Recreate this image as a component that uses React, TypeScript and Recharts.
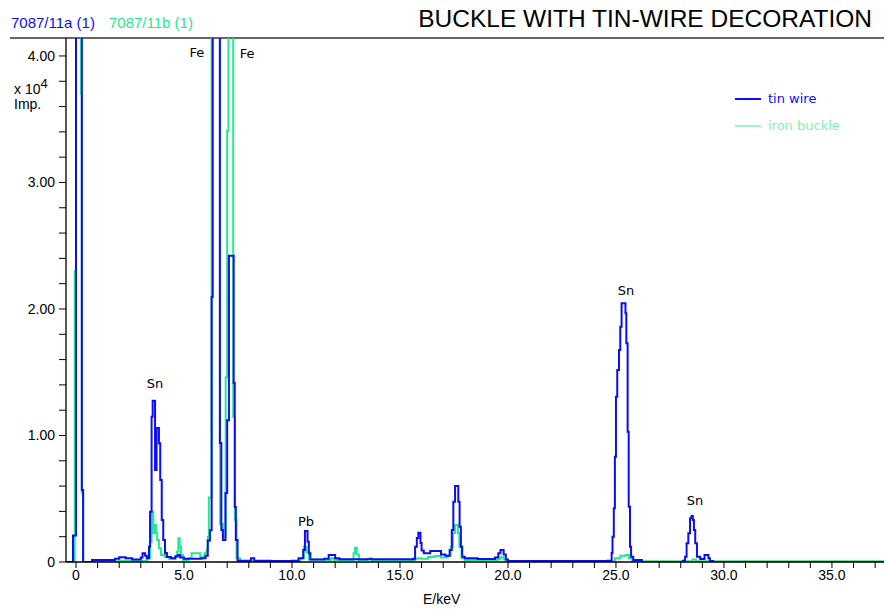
import React from 'react';
import { Line, LineChart, ReferenceDot, XAxis, YAxis } from 'recharts';

// spectrum: [energy keV, impulses]
const tinWire: [number, number][] = [
  [-0.46, 0], [-0.14, 2100], [0.0, 90000], [0.27, 5700], [0.33, 0],
  [0.74, 160], [1.2, 150], [1.8, 250], [2.0, 370], [2.3, 300], [2.6, 200],
  [3.0, 350], [3.08, 700], [3.2, 500], [3.28, 300], [3.38, 1200], [3.43, 3980],
  [3.5, 11480], [3.55, 12750], [3.66, 7270], [3.73, 10590], [3.84, 9380],
  [3.9, 6480], [3.97, 3320], [4.04, 1740], [4.12, 710], [4.21, 400], [4.4, 300],
  [4.6, 450], [4.72, 550], [4.82, 350], [5.0, 250], [5.8, 300], [6.0, 500],
  [6.1, 1700], [6.2, 2500], [6.28, 20950], [6.33, 90000], [6.66, 9400],
  [6.73, 2530], [6.8, 1740], [6.92, 5450], [7.0, 11200], [7.08, 24200],
  [7.3, 14150], [7.35, 4350], [7.4, 1740], [7.48, 100], [8.1, 300], [8.25, 100],
  [9.0, 80], [10.0, 100], [10.3, 300], [10.52, 950], [10.6, 2450], [10.72, 1600],
  [10.78, 690], [10.85, 200], [11.5, 250], [11.7, 550], [11.9, 550], [12.0, 300],
  [12.2, 210], [15.6, 250], [15.7, 1200], [15.78, 1900], [15.85, 2320],
  [15.95, 1500], [16.0, 900], [16.1, 700], [16.4, 870], [16.7, 870], [16.9, 600],
  [17.1, 500], [17.3, 950], [17.4, 2530], [17.47, 4770], [17.55, 6000],
  [17.7, 4770], [17.76, 2790], [17.82, 1210], [17.88, 420], [18.0, 300],
  [18.6, 240], [19.4, 350], [19.55, 700], [19.65, 950], [19.8, 600], [19.9, 200],
  [20.0, 80], [24.6, 100], [24.8, 710], [24.84, 2000], [24.9, 4240], [24.95, 8320],
  [25.0, 13070], [25.06, 15180], [25.14, 16760], [25.2, 18600], [25.26, 20450],
  [25.44, 19660], [25.48, 17290], [25.54, 10300], [25.59, 4370], [25.65, 1210],
  [25.7, 420], [25.8, 160], [26.2, 0], [28.1, 100], [28.2, 420], [28.27, 1480],
  [28.35, 2270], [28.43, 3450], [28.5, 3640], [28.56, 3320], [28.61, 2530],
  [28.67, 1480], [28.75, 420], [28.9, 240], [29.1, 550], [29.28, 300],
  [29.35, 80], [29.5, 0], [37.41, 0],
];

const ironBuckle: [number, number][] = [
  [-0.46, 0], [-0.06, 23000], [0.0, 90000], [0.24, 37000], [0.27, 5500], [0.33, 0],
  [0.8, 60], [2.0, 100], [3.0, 100], [3.3, 300], [3.43, 1600], [3.5, 3980],
  [3.58, 2270], [3.66, 2920], [3.7, 2270], [3.76, 1740], [3.84, 1080], [3.94, 550],
  [4.12, 400], [4.3, 250], [4.6, 400], [4.68, 815], [4.74, 1870], [4.8, 1210],
  [4.86, 550], [4.95, 160], [5.2, 300], [5.35, 690], [5.75, 400], [5.95, 700],
  [6.05, 950], [6.1, 1980], [6.15, 5100], [6.28, 90000], [6.67, 3000], [6.8, 2000],
  [6.93, 14600], [7.0, 34100], [7.06, 90000], [7.28, 11460], [7.36, 3320],
  [7.43, 300], [7.6, 80], [10.0, 80], [10.4, 300], [10.55, 1210], [10.68, 800],
  [10.78, 200], [11.6, 150], [11.8, 300], [11.95, 150], [12.7, 150], [12.85, 700],
  [12.92, 1130], [13.0, 600], [13.1, 150], [13.5, 250], [13.6, 300], [13.7, 100],
  [15.5, 100], [15.7, 250], [15.85, 300], [16.0, 250], [16.3, 400], [16.6, 470],
  [16.9, 350], [17.2, 500], [17.35, 1200], [17.45, 2300], [17.55, 2920],
  [17.68, 2300], [17.75, 1200], [17.85, 300], [18.0, 150], [19.5, 200],
  [19.65, 370], [19.8, 200], [19.9, 60], [24.8, 60], [24.95, 300], [25.2, 500],
  [25.45, 550], [25.6, 300], [25.75, 60], [28.45, 60], [28.55, 200], [28.7, 60],
  [37.41, 0],
];

const energyTicks = [
  0, 1, 2, 3, 4, 5, 6, 7, 8, 9, 10, 11, 12, 13, 14, 15, 16, 17, 18,
  19, 20, 21, 22, 23, 24, 25, 26, 27, 28, 29, 30, 31, 32, 33, 34, 35, 36, 37,
];
const countTicks = [
  0, 2000, 4000, 6000, 8000, 10000, 12000, 14000, 16000, 18000, 20000,
  22000, 24000, 26000, 28000, 30000, 32000, 34000, 36000, 38000, 40000,
];

const peakLabels = [
  { e: 5.6, c: 40300, name: 'Fe' },
  { e: 7.92, c: 40240, name: 'Fe' },
  { e: 3.66, c: 14150, name: 'Sn' },
  { e: 10.65, c: 3240, name: 'Pb' },
  { e: 25.46, c: 21500, name: 'Sn' },
  { e: 28.66, c: 4900, name: 'Sn' },
];

const BLUE = '#0d0df2';
const GREEN = '#22ea8c';

const toPoints = (rows: [number, number][]) => rows.map(([e, c]) => ({ e, c }));

const fmtEnergy = (v: number) => (v % 5 !== 0 ? '' : v === 0 ? '0' : v.toFixed(1));
const fmtCount = (v: number) => (v % 10000 !== 0 ? '' : v === 0 ? '0' : (v / 10000).toFixed(2));

const sans = 'Liberation Sans, Arial, sans-serif';
const tickFont = { fontFamily: sans, fontSize: 14, fill: '#000' };
const labelFont = 'DejaVu Sans, sans-serif';

const legendItems = [
  { name: 'tin wire', color: BLUE, w: 2 },
  { name: 'iron buckle', color: '#7ff0b4', w: 1.5 },
];

const SpectrumLegend = () => (
  <div style={{ position: 'absolute', left: 735, top: 85, fontFamily: labelFont, fontSize: 13 }}>
    {legendItems.map((s) => (
      <div key={s.name} style={{ display: 'flex', alignItems: 'center', height: 27 }}>
        <svg width={28} height={10} style={{ marginRight: 5 }}>
          <line x1={0} x2={26} y1={5} y2={5} stroke={s.color} strokeWidth={s.w} />
        </svg>
        <span style={{ color: s.color }}>{s.name}</span>
      </div>
    ))}
  </div>
);

export default function App() {
  return (
    <div style={{ position: 'absolute', left: 0, top: 0, width: 887, height: 609, background: '#fff' }}>
      <div style={{ position: 'absolute', left: 11, top: 14, fontFamily: sans, fontSize: 15, whiteSpace: 'nowrap' }}>
        <span style={{ color: BLUE }}>7087/11a (1)</span>
        <span style={{ color: GREEN, marginLeft: 14 }}>7087/11b (1)</span>
      </div>
      <div style={{ position: 'absolute', right: 15, top: 5, fontFamily: sans, fontSize: 24.5, color: '#000', whiteSpace: 'nowrap' }}>
        BUCKLE WITH TIN-WIRE DECORATION
      </div>
      <div style={{ position: 'absolute', left: 10, top: 37, width: 874, height: 0, borderTop: '2px solid #6b665c' }} />
      <div style={{ position: 'absolute', left: 14, top: 76, fontFamily: sans, fontSize: 14, lineHeight: '15px', color: '#000' }}>
        <div>
          x 10<sup style={{ fontSize: 13, verticalAlign: 6 }}>4</sup>
        </div>
        <div>Imp.</div>
      </div>
      <div style={{ position: 'absolute', left: 423, top: 591, fontFamily: sans, fontSize: 14, color: '#000' }}>
        E/keV
      </div>
      <SpectrumLegend />
      <LineChart width={887} height={609} margin={{ top: 38, right: 3, bottom: 0, left: 0 }}>
        <XAxis
          dataKey="e"
          type="number"
          domain={[-0.463, 37.41]}
          allowDataOverflow
          ticks={energyTicks}
          interval={0}
          tickFormatter={fmtEnergy}
          height={47}
          tickSize={6}
          tickMargin={2}
          tick={tickFont}
          stroke="#000"
          axisLine={{ stroke: '#000', strokeWidth: 1.5 }}
        />
        <YAxis
          dataKey="c"
          type="number"
          domain={[0, 41420]}
          allowDataOverflow
          ticks={countTicks}
          interval={0}
          tickFormatter={fmtCount}
          width={66}
          tickSize={7}
          tickMargin={4}
          tick={tickFont}
          stroke="#000"
          axisLine={{ stroke: '#222', strokeWidth: 1.5 }}
        />
        <Line
          data={toPoints(ironBuckle)}
          dataKey="c"
          name="iron buckle"
          type="stepAfter"
          stroke={GREEN}
          strokeWidth={2}
          dot={false}
          isAnimationActive={false}
        />
        <Line
          data={toPoints(tinWire)}
          dataKey="c"
          name="tin wire"
          type="stepAfter"
          stroke={BLUE}
          strokeWidth={2}
          dot={false}
          isAnimationActive={false}
        />
        {peakLabels.map((p, i) => (
          <ReferenceDot
            key={i}
            x={p.e}
            y={p.c}
            r={0}
            ifOverflow="visible"
            fill="none"
            stroke="none"
            label={{ value: p.name, position: 'center', fill: '#000', fontSize: 13, fontFamily: labelFont }}
          />
        ))}
      </LineChart>
    </div>
  );
}
